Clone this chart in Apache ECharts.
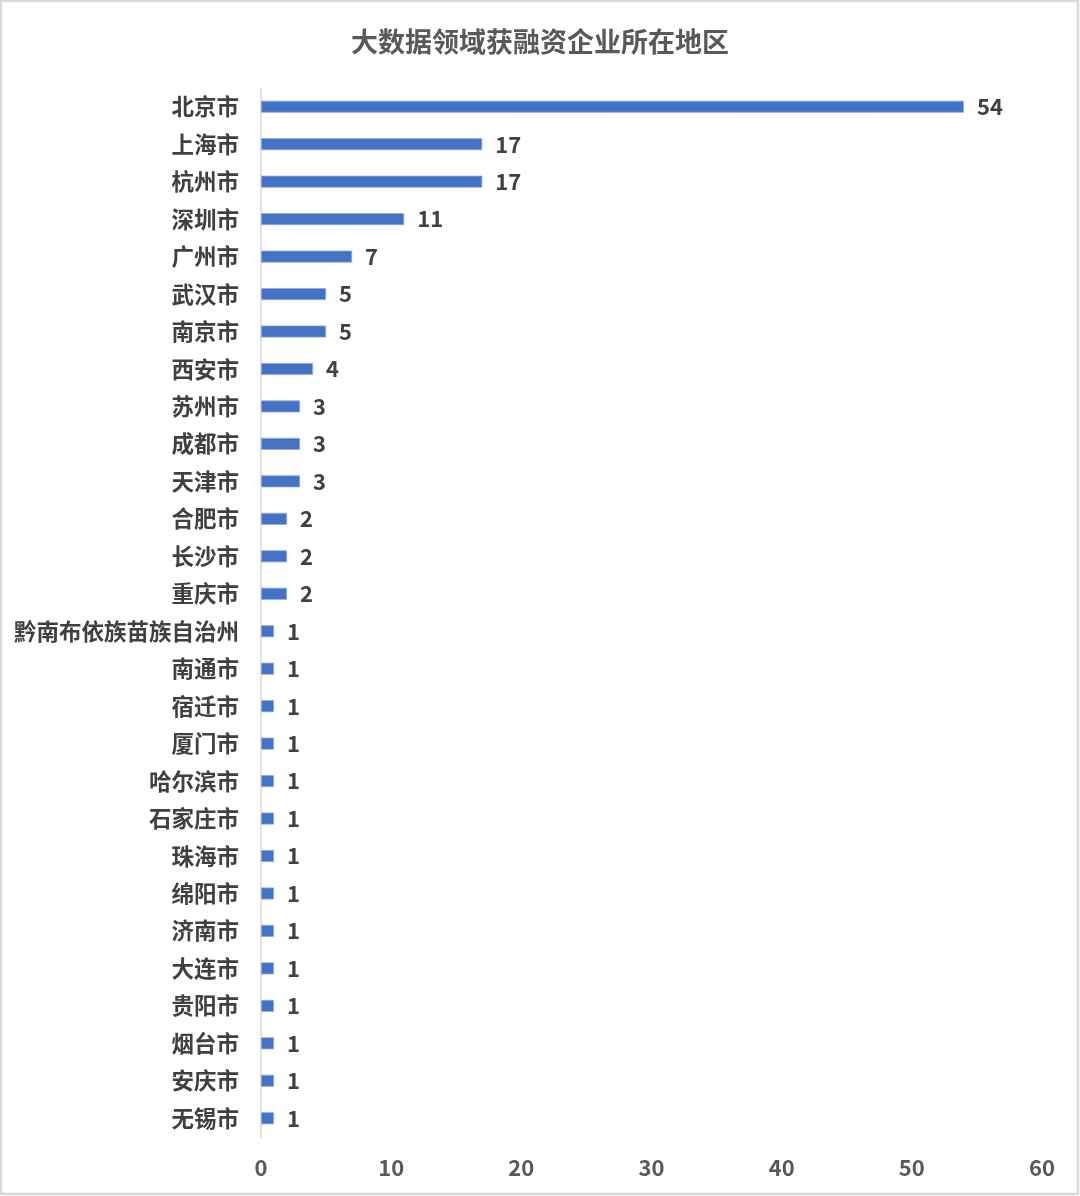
<!DOCTYPE html>
<html>
<head>
<meta charset="utf-8">
<script src="https://cdn.jsdelivr.net/npm/echarts@6/dist/echarts.min.js"></script>
<style>
html,body{margin:0;padding:0;background:#fff;}
#main{width:1080px;height:1196px;}
</style>
</head>
<body>
<div id="main"></div>
<script>
// 城市（自上而下）
var cities = ['北京市','上海市','杭州市','深圳市','广州市','武汉市','南京市','西安市','苏州市','成都市','天津市','合肥市','长沙市','重庆市','黔南布依族苗族自治州','南通市','宿迁市','厦门市','哈尔滨市','石家庄市','珠海市','绵阳市','济南市','大连市','贵阳市','烟台市','安庆市','无锡市'];
// 获融资企业数
var counts = [54,17,17,11,7,5,5,4,3,3,3,2,2,2,1,1,1,1,1,1,1,1,1,1,1,1,1,1];
var xTicks = [0,10,20,30,40,50,60];

var font = '"Microsoft YaHei","Noto Sans CJK SC",sans-serif';
var myChart = echarts.init(document.getElementById('main'));

var option = {
	backgroundColor: '#fff',
	animation: false,
	title: {
		text: '大数据领域获融资企业所在地区',
		left: 'center',
		top: 23,
		textStyle: { fontFamily: font, fontSize: 27, fontWeight: 'bold', color: '#595959' }
	},
	graphic: [{
		type: 'rect',
		shape: { x: 1, y: 1, width: 1077, height: 1193 },
		style: { fill: 'none', stroke: '#d9d9d9', lineWidth: 2.5 },
		silent: true
	}],
	grid: { left: 261, right: 38, top: 88, bottom: 59 },
	xAxis: {
		type: 'value',
		min: xTicks[0],
		max: xTicks[xTicks.length - 1],
		interval: 10,
		axisLine: { show: false },
		axisTick: { show: false },
		splitLine: { show: false },
		axisLabel: { margin: 20, fontFamily: font, fontSize: 22, fontWeight: 'bold', color: '#595959' }
	},
	yAxis: {
		type: 'category',
		inverse: true,
		data: cities,
		axisLine: { show: true, lineStyle: { color: '#d9d9d9', width: 1.5 } },
		axisTick: { show: false },
		axisLabel: { margin: 22, fontFamily: font, fontSize: 22.5, fontWeight: 'bold', color: '#404040' }
	},
	series: [{
		type: 'bar',
		data: counts,
		barWidth: 12,
		itemStyle: { color: '#4472C4', borderColor: '#8faadc', borderWidth: 0.8 },
		label: {
			show: true,
			position: 'right',
			distance: 13,
			fontFamily: font,
			fontSize: 22,
			fontWeight: 'bold',
			color: '#404040'
		}
	}]
};
myChart.setOption(option);
</script>
</body>
</html>
